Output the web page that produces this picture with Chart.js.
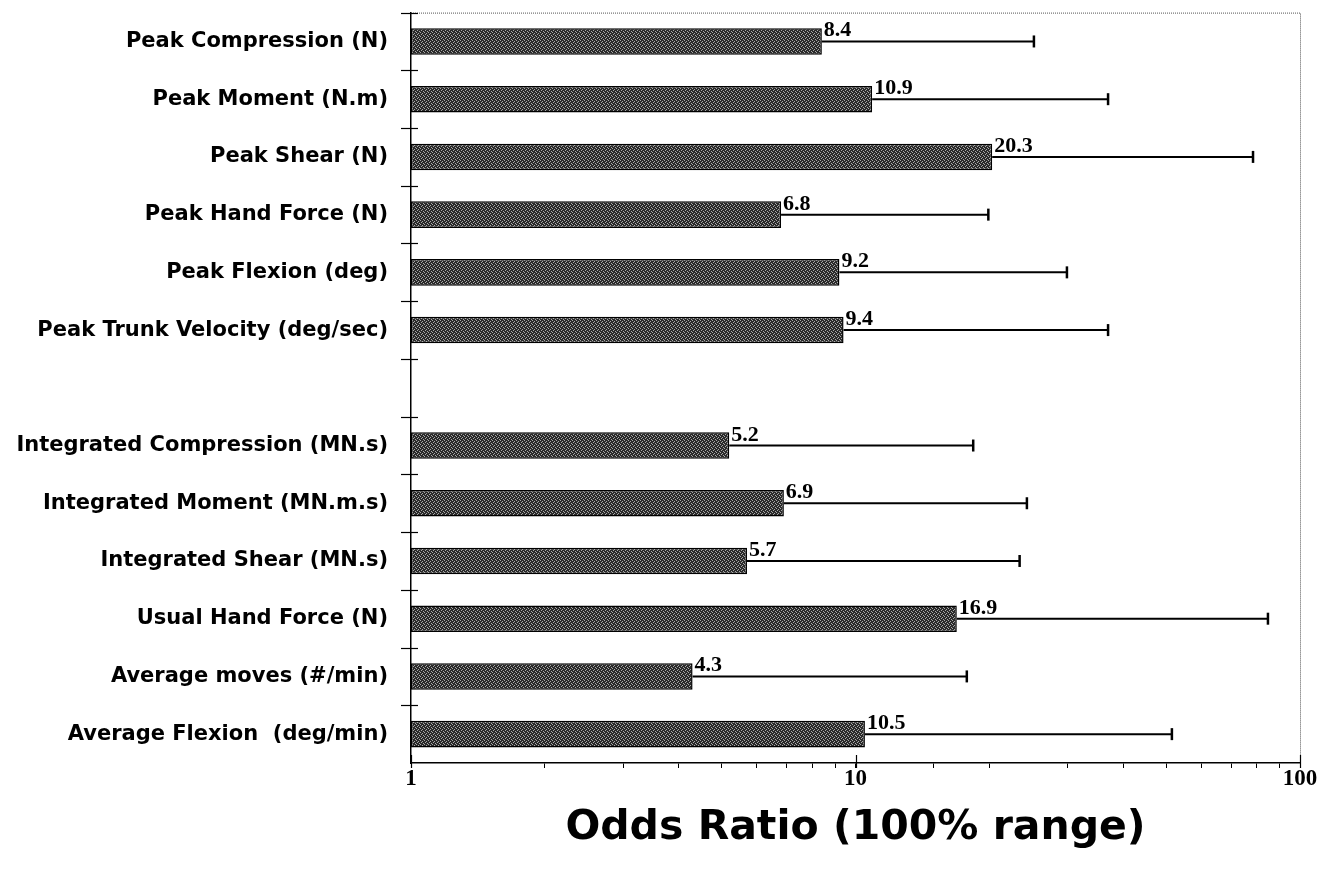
<!DOCTYPE html>
<html>
<head>
<meta charset="utf-8">
<script src="https://cdn.jsdelivr.net/npm/chart.js@4"></script>
<style>
  html, body { margin: 0; padding: 0; background: #fff; }
  #wrap { width: 1324px; height: 882px; }
</style>
</head>
<body>
<div id="wrap"><canvas id="canvasChart" width="1324" height="882"></canvas></div>
<script>
// Daten (leere Kategorie als Trenner zwischen den Gruppen)
const categories = [
    "Peak Compression (N)",
    "Peak Moment (N.m)",
    "Peak Shear (N)",
    "Peak Hand Force (N)",
    "Peak Flexion (deg)",
    "Peak Trunk Velocity (deg/sec)",
    "",
    "Integrated Compression (MN.s)",
    "Integrated Moment (MN.m.s)",
    "Integrated Shear (MN.s)",
    "Usual Hand Force (N)",
    "Average moves (#/min)",
    "Average Flexion  (deg/min)"
];
const oddsRatio = [8.4, 10.9, 20.3, 6.8, 9.2, 9.4, null, 5.2, 6.9, 5.7, 16.9, 4.3, 10.5];
const upperLimit = [25.2, 37.0, 78.4, 19.9, 29.9, 37.0, null, 18.4, 24.3, 23.4, 84.7, 17.8, 51.5];
const xTickLabels = [1, 10, 100];
const axisTitle = "Odds Ratio (100% range)";

// Punktiertes Füllmuster für die Balken
function makePattern() {
    const c = document.createElement('canvas');
    c.width = 4; c.height = 4;
    const g = c.getContext('2d');
    g.fillStyle = '#2a2a2a';
    g.fillRect(0, 0, 4, 4);
    g.fillStyle = '#a8a8a8';
    const dots = [[0,0],[2,1],[1,2],[3,3]];
    dots.forEach(d => g.fillRect(d[0], d[1], 1, 1));
    return g.createPattern(c, 'repeat');
}

// Fehlerbalken, Werte und Achsendekoration
const extrasPlugin = {
    id: 'extras',
    afterDatasetsDraw(chart) {
        const ctx = chart.ctx;
        const xs = chart.scales.x;
        const area = chart.chartArea;
        const meta = chart.getDatasetMeta(0);

        ctx.save();
        // Rahmen oben/rechts punktiert
        ctx.strokeStyle = '#555';
        ctx.lineWidth = 1;
        ctx.setLineDash([1, 1]);
        ctx.beginPath();
        ctx.moveTo(area.left, area.top + 0.5);
        ctx.lineTo(area.right + 0.5, area.top + 0.5);
        ctx.lineTo(area.right + 0.5, area.bottom);
        ctx.stroke();
        ctx.setLineDash([]);

        // Fehlerbalken
        ctx.strokeStyle = '#000';
        meta.data.forEach((bar, i) => {
            if (oddsRatio[i] == null) return;
            const y = bar.y;
            const x0 = xs.getPixelForValue(oddsRatio[i]);
            const x1 = xs.getPixelForValue(upperLimit[i]);
            ctx.lineWidth = 2;
            ctx.beginPath();
            ctx.moveTo(x0, y);
            ctx.lineTo(x1, y);
            ctx.stroke();
            ctx.lineWidth = 2.5;
            ctx.beginPath();
            ctx.moveTo(x1, y - 6);
            ctx.lineTo(x1, y + 6);
            ctx.stroke();
        });

        // Werte ueber den Balkenenden
        ctx.fillStyle = '#000';
        ctx.font = 'bold 22px "Liberation Serif", "Times New Roman", serif';
        ctx.textAlign = 'left';
        ctx.textBaseline = 'alphabetic';
        meta.data.forEach((bar, i) => {
            if (oddsRatio[i] == null) return;
            const x0 = xs.getPixelForValue(oddsRatio[i]);
            ctx.fillText(oddsRatio[i].toFixed(1), x0 + 2, bar.y - 5);
        });

        // Striche an der y-Achse (kreuzend)
        ctx.lineWidth = 1.2;
        const n = categories.length;
        const step = (area.bottom - area.top) / n;
        for (let k = 0; k < n; k++) {
            const y = Math.round(area.top + k * step) + 0.5;
            ctx.beginPath();
            ctx.moveTo(area.left - 10, y);
            ctx.lineTo(area.left + 7, y);
            ctx.stroke();
        }

        // Hauptstriche an der x-Achse (kreuzend)
        xTickLabels.forEach(v => {
            const x = Math.round(xs.getPixelForValue(v)) + 0.5;
            ctx.beginPath();
            ctx.moveTo(x, area.bottom - 8);
            ctx.lineTo(x, area.bottom + 5);
            ctx.stroke();
        });
        ctx.restore();
    }
};

const ctx = document.getElementById('canvasChart').getContext('2d');
const myChart = new Chart(ctx, {
    type: 'bar',
    data: {
        labels: categories,
        datasets: [{
            data: oddsRatio,
            backgroundColor: makePattern(),
            borderColor: '#000',
            borderWidth: 1.5,
            borderSkipped: false,
            barPercentage: 0.46,
            categoryPercentage: 1.0
        }]
    },
    options: {
        indexAxis: 'y',
        responsive: false,
        animation: false,
        layout: { padding: { top: 12, right: 24, left: 0, bottom: 0 } },
        plugins: {
            legend: { display: false },
            tooltip: { enabled: false }
        },
        scales: {
            x: {
                type: 'logarithmic',
                min: 1,
                max: 100,
                afterFit(scale) { scale.height = 119; },
                border: { display: true, color: '#000', width: 1.5 },
                grid: { drawOnChartArea: false, drawTicks: true, tickLength: 5, color: '#000', lineWidth: 1 },
                ticks: {
                    autoSkip: false,
                    maxRotation: 0,
                    padding: 0,
                    color: '#000',
                    font: { family: '"Liberation Serif", "Times New Roman", serif', size: 23, weight: 'bold', lineHeight: 1.0 },
                    callback: (v) => xTickLabels.includes(v) ? String(v) : ''
                },
                title: {
                    display: true,
                    text: axisTitle,
                    color: '#000',
                    font: { family: '"DejaVu Sans", sans-serif', size: 41, weight: 'bold' },
                    padding: { top: 0, bottom: 29 }
                }
            },
            y: {
                afterFit(scale) { scale.width = 411; },
                border: { display: true, color: '#000', width: 1.5 },
                grid: { display: true, drawOnChartArea: false, drawTicks: true, tickLength: 23, color: 'rgba(0,0,0,0)' },
                ticks: {
                    padding: 0,
                    color: '#000',
                    font: { family: '"DejaVu Sans", sans-serif', size: 21, weight: 'bold' }
                }
            }
        }
    },
    plugins: [extrasPlugin]
});
</script>
</body>
</html>
